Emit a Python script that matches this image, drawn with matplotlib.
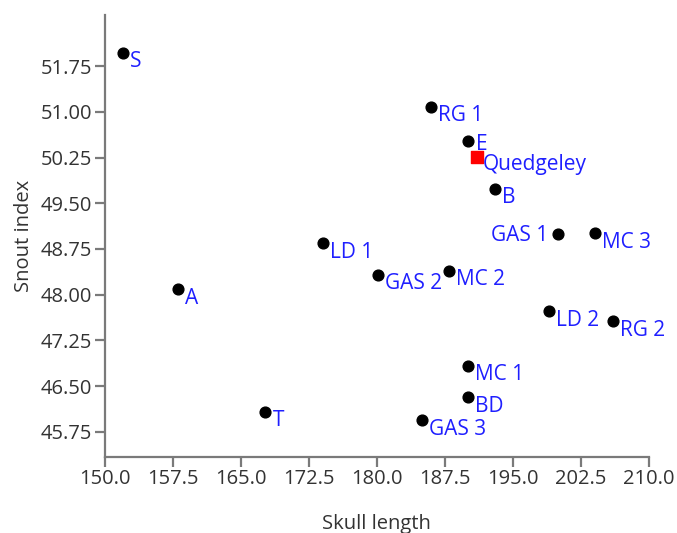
import matplotlib
matplotlib.use("Agg")
import matplotlib.pyplot as plt

plt.rcParams['font.family'] = ['Open Sans', 'DejaVu Sans']

# sites (skull length, snout index)
names = ["S", "RG 1", "E", "B", "GAS 1", "MC 3", "LD 1", "GAS 2", "MC 2", "A",
         "LD 2", "RG 2", "MC 1", "BD", "T", "GAS 3"]
skull_len = [152.0, 186.0, 190.0, 193.0, 200.0, 204.0, 174.0, 180.1, 188.0, 158.1,
             199.0, 206.0, 190.0, 190.0, 167.7, 185.0]
snout_idx = [51.97, 51.08, 50.52, 49.74, 48.99, 49.01, 48.84, 48.33, 48.39, 48.09,
             47.73, 47.56, 46.83, 46.32, 46.08, 45.94]

# the Quedgeley skull
q_name = "Quedgeley"
q_len = [191.0]
q_idx = [50.26]

xticks = [150.0, 157.5, 165.0, 172.5, 180.0, 187.5, 195.0, 202.5, 210.0]
yticks = [45.75, 46.50, 47.25, 48.00, 48.75, 49.50, 50.25, 51.00, 51.75]

label_col = "#1f1fff"
axis_col = "#7a7a7a"
text_col = "#333333"

fig = plt.figure(figsize=(6.77, 5.33), dpi=100)
ax = fig.add_axes([0.155, 0.143, 0.8035, 0.829])

ax.scatter(skull_len, snout_idx, s=60, color="black", zorder=3)
ax.scatter(q_len, q_idx, s=70, color="#ff0000", marker="s", zorder=3)

# label offsets in pixels (most sit below-right of the dot)
offsets = {"E": (8, -3, "left"), "GAS 1": (-10, -1, "right")}
for n, x, y in zip(names, skull_len, snout_idx):
    dx, dy, ha = offsets.get(n, (7, -9, "left"))
    ax.annotate(n, (x, y), xytext=(dx, dy), textcoords="offset pixels",
                ha=ha, va="center", color=label_col, fontsize=15)
ax.annotate(q_name, (q_len[0], q_idx[0]), xytext=(6, -8), textcoords="offset pixels",
            ha="left", va="center", color=label_col, fontsize=15)

ax.set_xlim(150, 210)
ax.set_ylim(45.34, 52.59)
ax.set_xticks(xticks)
ax.set_yticks(yticks)
ax.set_xticklabels(["%.1f" % v for v in xticks])
ax.set_yticklabels(["%.2f" % v for v in yticks])

for side in ["top", "right"]:
    ax.spines[side].set_visible(False)
for side in ["left", "bottom"]:
    ax.spines[side].set_color(axis_col)
    ax.spines[side].set_linewidth(1.6)
ax.tick_params(colors=axis_col, width=1.6, length=7, labelsize=14.5, labelcolor=text_col, pad=2)

ax.set_xlabel("Skull length", fontsize=14.5, color=text_col, labelpad=18)
ax.set_ylabel("Snout index", fontsize=14.5, color=text_col, labelpad=5)

plt.savefig("out.png", dpi=100)
